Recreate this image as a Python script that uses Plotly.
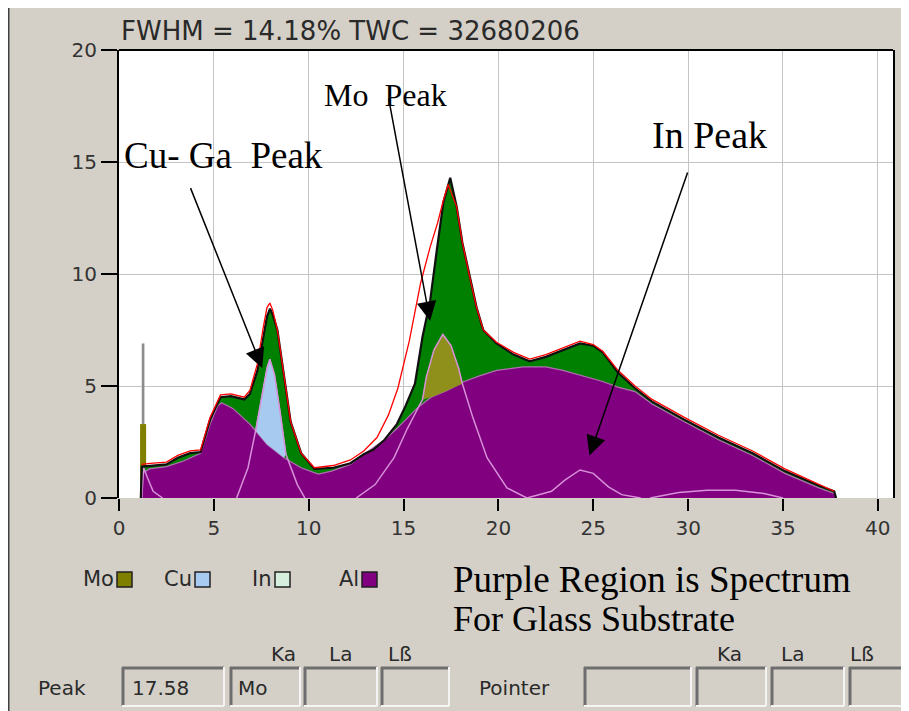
import plotly.graph_objects as go

# ---------------- data ----------------
x_ticks = [0, 5, 10, 15, 20, 25, 30, 35, 40]
y_ticks = [0, 5, 10, 15, 20]

# total measured spectrum (green area, black outline)
total_x = [1.15, 1.2, 1.64, 2.5, 3.1, 3.75, 4.3, 4.8, 5.35, 5.9, 6.6, 6.9, 7.3, 7.6, 7.8, 7.96, 8.1, 8.35,
           8.7, 9.05, 9.6, 10.3, 11.3, 12.2, 12.9, 13.4, 14.0, 14.65, 15.1, 15.6, 16.0, 16.4, 16.75, 17.1,
           17.46, 17.8, 18.1, 18.5, 18.85, 19.2, 19.9, 20.8, 21.65, 22.5, 23.4, 24.3, 25.0, 25.5, 26.3,
           27.2, 28.1, 29.8, 31.6, 33.4, 35.1, 36.9, 37.7, 37.8]
total_y = [0, 1.4, 1.43, 1.5, 1.8, 2.0, 2.05, 3.5, 4.5, 4.55, 4.4, 4.65, 5.7, 7.2, 8.1, 8.45, 8.2, 7.5,
           5.5, 3.4, 2.0, 1.3, 1.35, 1.55, 1.95, 2.15, 2.6, 3.3, 4.1, 5.1, 7.2, 8.8, 11.05, 13.2,
           14.3, 13.0, 11.4, 9.8, 8.5, 7.5, 6.9, 6.4, 6.1, 6.3, 6.6, 6.9, 6.8, 6.5, 5.6,
           4.9, 4.3, 3.5, 2.7, 2.0, 1.2, 0.55, 0.3, 0]

# fitted spectrum (red line)
fit_x = [1.2, 1.64, 2.5, 3.1, 3.75, 4.3, 4.8, 5.35, 5.9, 6.6, 6.9, 7.3, 7.6, 7.8, 7.95, 8.1, 8.35, 8.7,
         9.05, 9.6, 10.3, 11.3, 12.2, 12.9, 13.6, 14.2, 14.7, 15.3, 15.9, 16.4, 16.8, 17.1, 17.35, 17.8,
         18.1, 18.5, 18.85, 19.2, 19.9, 20.8, 21.65, 22.5, 23.4, 24.3, 25.0, 25.5, 26.3, 27.2, 28.1,
         29.8, 31.6, 33.4, 35.1, 36.9, 37.7]
fit_y = [1.5, 1.55, 1.6, 1.9, 2.1, 2.15, 3.6, 4.6, 4.65, 4.5, 4.8, 6.0, 7.6, 8.5, 8.7, 8.4, 7.5, 5.5,
         3.4, 2.0, 1.35, 1.45, 1.7, 2.1, 2.7, 3.7, 4.9, 7.0, 9.6, 11.2, 12.3, 13.3, 14.0, 13.0,
         11.4, 9.8, 8.5, 7.5, 6.95, 6.5, 6.2, 6.4, 6.7, 7.0, 6.85, 6.55, 5.7, 5.0, 4.4,
         3.6, 2.8, 2.1, 1.3, 0.6, 0.3]

# Al / glass substrate background (purple area)
al_x = [1.15, 1.2, 1.6, 2.5, 3.4, 4.3, 4.8, 5.2, 5.4, 6.0, 6.9, 7.8, 8.7, 9.6, 10.5, 11.2, 12.2, 12.9,
        14.0, 14.65, 15.7, 16.45, 17.3, 18.2, 19.0, 19.9, 21.3, 22.5, 23.4, 24.5, 25.5, 26.3, 27.2,
        28.1, 29.8, 31.6, 33.4, 35.1, 36.9, 37.7, 37.8]
al_y = [0, 1.1, 1.3, 1.4, 1.65, 2.0, 3.3, 4.1, 4.25, 4.0, 3.3, 2.4, 1.8, 1.35, 1.07, 1.2, 1.5, 1.95,
        2.6, 3.1, 4.0, 4.5, 4.8, 5.2, 5.45, 5.7, 5.85, 5.85, 5.7, 5.45, 5.2, 4.95, 4.75,
        4.2, 3.4, 2.6, 1.9, 1.1, 0.45, 0.2, 0]

# element component profiles (pink lines)
cu_x = [6.2, 6.8, 7.2, 7.5, 7.8, 7.95, 8.2, 8.5, 8.8, 9.4, 9.8]
cu_y = [0, 1.35, 3.0, 4.5, 5.8, 6.2, 5.5, 3.8, 1.95, 0.6, 0]
mo_x = [12.5, 13.5, 14.5, 15.2, 15.6, 16.0, 16.2, 16.6, 17.07, 17.5, 17.9, 18.1, 18.65, 19.4, 20.45, 21.5]
mo_y = [0, 0.6, 1.8, 3.1, 3.75, 4.4, 5.4, 6.6, 7.3, 6.8, 5.8, 5.1, 3.6, 1.8, 0.45, 0]
in_x = [21.5, 22.8, 23.5, 24.3, 25.0, 25.8, 26.5, 27.5]
in_y = [0, 0.3, 0.8, 1.25, 1.1, 0.5, 0.15, 0]
ga_x = [1.2, 1.3, 1.5, 1.8, 2.3]
ga_y = [0, 1.35, 0.9, 0.3, 0]
sm_x = [28.0, 29.5, 31.0, 32.5, 34.0, 35.0]
sm_y = [0, 0.25, 0.35, 0.35, 0.2, 0]

cu_range = (7.2, 8.8)
mo_range = (16.0, 18.1)

# low-energy spike
spike_pos = [1.27]
spike_top = [6.9]
spike_mid = [3.3]

# ---------------- figure ----------------
# reference pixel geometry (page coordinates); page body has an 8px margin
OX, OY = 8, 8
L, R, T, B = 119, 893, 50, 498
W, H = 909 - OX, 711 - OY


def px(v):
    return (v - L) / (R - L)


def py(v):
    return (B - v) / (B - T)


GREEN = '#008000'
PURPLE = '#800080'
CUBLUE = '#a6caf0'
OLIVE = '#808000'
PINK = '#d890d8'
BG = '#d4d0c8'
UI = 'DejaVu Sans, Verdana'

fig = go.Figure()

fig.add_trace(go.Bar(x=spike_pos, y=spike_top, width=0.14, marker=dict(color='#8c8c8c', line=dict(width=0))))
fig.add_trace(go.Bar(x=spike_pos, y=spike_mid, width=0.32, marker=dict(color=OLIVE, line=dict(width=0))))

fig.add_trace(go.Scatter(x=total_x, y=total_y, mode='lines', fill='tozeroy', fillcolor=GREEN,
                         line=dict(width=0, color=GREEN)))
fig.add_trace(go.Scatter(x=al_x, y=al_y, mode='lines', fill='tozeroy', fillcolor=PURPLE,
                         line=dict(width=1.2, color='#b070b0')))


def region(cx, cy, rng, color):
    bx = [x for x in al_x if rng[0] <= x <= rng[1]]
    by = [y for x, y in zip(al_x, al_y) if rng[0] <= x <= rng[1]]
    tx = [x for x in cx if rng[0] <= x <= rng[1]]
    ty = [y for x, y in zip(cx, cy) if rng[0] <= x <= rng[1]]
    fig.add_trace(go.Scatter(x=bx, y=by, mode='lines', line=dict(width=0, color=color)))
    fig.add_trace(go.Scatter(x=tx, y=ty, mode='lines', fill='tonexty', fillcolor=color,
                             line=dict(width=1, color=color)))


region(cu_x, cu_y, cu_range, CUBLUE)
region(mo_x, mo_y, mo_range, '#8f8f1c')

for cx, cy in [(cu_x, cu_y), (mo_x, mo_y), (in_x, in_y), (ga_x, ga_y), (sm_x, sm_y)]:
    fig.add_trace(go.Scatter(x=cx, y=cy, mode='lines', line=dict(width=1.5, color=PINK)))

fig.add_trace(go.Scatter(x=total_x, y=total_y, mode='lines', line=dict(width=2.2, color='#101010')))
fig.add_trace(go.Scatter(x=fit_x, y=fit_y, mode='lines', line=dict(width=1.3, color='#ff0000')))

tickfont = dict(family=UI, size=20, color='#333333')

fig.update_layout(
    width=W, height=H,
    margin=dict(l=L - OX, r=W - (R - OX), t=T - OY, b=H - (B - OY), pad=0),
    paper_bgcolor=BG, plot_bgcolor='white',
    showlegend=False, barmode='overlay',
    xaxis=dict(range=[0, 40.8], tickvals=x_ticks, ticktext=[str(v) for v in x_ticks],
               ticks='outside', ticklen=12, tickwidth=1.5, tickcolor='black',
               showgrid=True, gridcolor='#c4c4c4', gridwidth=1.2, zeroline=False, showline=False,
               tickfont=tickfont, fixedrange=True),
    yaxis=dict(range=[0, 20], tickvals=y_ticks, ticktext=[str(v) for v in y_ticks],
               ticks='outside', ticklen=16, tickwidth=1.5, tickcolor='black',
               showgrid=True, gridcolor='#c4c4c4', gridwidth=1.2, zeroline=False,
               showline=True, linecolor='black', linewidth=2, mirror=True,
               tickfont=tickfont, fixedrange=True),
)

shapes = []
# window frame (left edge)
shapes.append(dict(type='line', xref='paper', yref='paper', x0=px(8.5), x1=px(8.5), y0=py(8), y1=py(711),
                   line=dict(color='#404040', width=2)))
# top border of plot
shapes.append(dict(type='line', xref='paper', yref='paper', x0=0, x1=1, y0=1, y1=1,
                   line=dict(color='black', width=2)))

# legend swatches (label sits right against its swatch)
legend_items = [('Mo', 117, OLIVE), ('Cu', 195, CUBLUE), ('In', 275, '#d6eedd'), ('Al', 362, PURPLE)]
annotations = []
for name, bx, col in legend_items:
    annotations.append(dict(text=name, x=px(bx - 1), y=py(579), xref='paper', yref='paper',
                            xanchor='right', yanchor='middle', showarrow=False,
                            font=dict(family=UI, size=21, color='#2a2a2a')))
    shapes.append(dict(type='rect', xref='paper', yref='paper', x0=px(bx), x1=px(bx + 15),
                       y0=py(572), y1=py(587), fillcolor=col, line=dict(color='#202020', width=1.5)))

# bottom panel sunken boxes
boxes = [(122, 224), (230, 300), (304, 377), (381, 449), (584, 691), (696, 766), (771, 844), (849, 915)]
for x0, x1 in boxes:
    y0, y1 = 667, 706
    shapes.append(dict(type='line', xref='paper', yref='paper', x0=px(x0), x1=px(x1), y0=py(y0 + 1), y1=py(y0 + 1),
                       line=dict(color='#6e6e6e', width=3)))
    shapes.append(dict(type='line', xref='paper', yref='paper', x0=px(x0 + 1), x1=px(x0 + 1), y0=py(y0), y1=py(y1),
                       line=dict(color='#6e6e6e', width=3)))
    shapes.append(dict(type='line', xref='paper', yref='paper', x0=px(x0), x1=px(x1), y0=py(y1), y1=py(y1),
                       line=dict(color='#f4f4f4', width=2)))
    shapes.append(dict(type='line', xref='paper', yref='paper', x0=px(x1), x1=px(x1), y0=py(y0), y1=py(y1),
                       line=dict(color='#f4f4f4', width=2)))

panel_font = dict(family=UI, size=20, color='#2a2a2a')
panel_texts = [('Ka', 283), ('La', 340), ('Lß', 400), ('Ka', 729), ('La', 792), ('Lß', 862)]
for t, cx in panel_texts:
    annotations.append(dict(text=t, x=px(cx), y=py(654), xref='paper', yref='paper',
                            xanchor='center', yanchor='middle', showarrow=False, font=panel_font))
for t, lx in [('Peak', 36), ('17.58', 130), ('Mo', 236), ('Pointer', 477)]:
    annotations.append(dict(text=t, x=px(lx), y=py(688), xref='paper', yref='paper',
                            xanchor='left', yanchor='middle', showarrow=False, font=panel_font))

# header
annotations.append(dict(text='FWHM = 14.18% TWC = 32680206', x=px(119), y=py(31), xref='paper', yref='paper',
                        xanchor='left', yanchor='middle', showarrow=False,
                        font=dict(family=UI, size=26, color='#2a2a2a')))

for t, lx, cy, sz in [('Cu- Ga\u00a0 Peak', 122, 155, 37), ('Mo\u00a0 Peak', 322, 95, 32),
                      ('In Peak', 650, 135, 38),
                      ('Purple Region is Spectrum', 451, 579, 37), ('For Glass Substrate', 451, 619, 36)]:
    annotations.append(dict(text=t, x=px(lx), y=py(cy), xref='paper', yref='paper',
                            xanchor='left', yanchor='middle', showarrow=False,
                            font=dict(family='Liberation Serif, Times New Roman', size=sz, color='black')))

# arrows (head and tail in data coords)
for hx, hy, tx, ty in [(7.55, 5.8, 3.74, 13.9), (16.4, 7.9, 14.2, 17.9), (24.8, 1.9, 30.0, 14.6)]:
    annotations.append(dict(text='', x=hx, y=hy, ax=tx, ay=ty, xref='x', yref='y', axref='x', ayref='y',
                            showarrow=True, arrowhead=2, arrowsize=2.6, arrowwidth=1.5, arrowcolor='black',
                            standoff=0))

fig.update_layout(shapes=shapes, annotations=annotations)
fig.write_html('out.html')
